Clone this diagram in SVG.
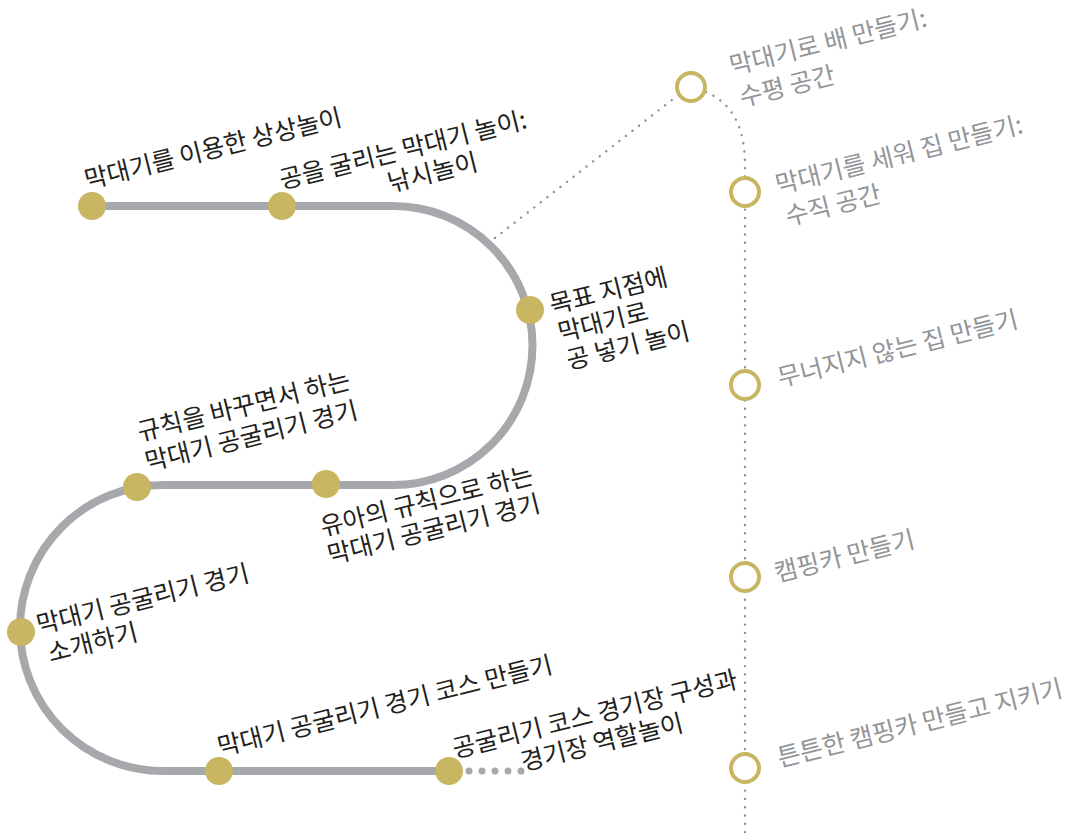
<svg xmlns="http://www.w3.org/2000/svg" width="1073" height="840" viewBox="0 0 1073 840">
<style>
.lbl{font-family:"Noto Sans CJK KR","Noto Sans",sans-serif;font-size:25px;fill:#231f20}
.glbl{font-family:"Noto Sans CJK KR","Noto Sans",sans-serif;font-size:25px;fill:#939598}
.dot{fill:#c8b662}
.ring{fill:#fff;stroke:#c8b662;stroke-width:4}
</style>
<rect width="1073" height="840" fill="#fff"/>
<g id="connectors">
<path d="M92 206 H393 A139.5 139.5 0 0 1 393 485 H163 A143 143 0 0 0 163 771 H449" fill="none" stroke="#a7a8ac" stroke-width="8"/>
<path d="M469 771 H534" fill="none" stroke="#a7a8ac" stroke-width="7" stroke-linecap="round" stroke-dasharray="0 13"/>
<path d="M495 238 L677 96" fill="none" stroke="#8d8e92" stroke-width="2.4" stroke-linecap="round" stroke-dasharray="0 8.3"/>
<path d="M706 92 C734 104 745 130 745 165 V840" fill="none" stroke="#8d8e92" stroke-width="2.4" stroke-linecap="round" stroke-dasharray="0 8.3"/>
</g>
<g id="n1"><circle class="dot" cx="92" cy="206" r="14"/><text class="lbl" transform="translate(87 189) rotate(-14)">막대기를 이용한 상상놀이</text></g>
<g id="n2"><circle class="dot" cx="282" cy="206" r="14"/><g transform="translate(282 189) rotate(-14)"><text class="lbl">공을 굴리는 막대기 놀이:</text><text class="lbl" x="104" y="29">낚시놀이</text></g></g>
<g id="n3"><circle class="dot" cx="530" cy="310" r="14"/><g transform="translate(552 314) rotate(-14)"><text class="lbl">목표 지점에</text><text class="lbl" x="1.5" y="29">막대기로</text><text class="lbl" x="3" y="58">공 넣기 놀이</text></g></g>
<g id="n4"><circle class="dot" cx="137" cy="487" r="14"/><g transform="translate(140 441) rotate(-14)"><text class="lbl">규칙을 바꾸면서 하는</text><text class="lbl" x="0" y="31">막대기 공굴리기 경기</text></g></g>
<g id="n5"><circle class="dot" cx="326" cy="484" r="14"/><g transform="translate(323 536) rotate(-14)"><text class="lbl">유아의 규칙으로 하는</text><text class="lbl" x="0" y="29">막대기 공굴리기 경기</text></g></g>
<g id="n6"><circle class="dot" cx="21" cy="632" r="14"/><g transform="translate(39 634) rotate(-14)"><text class="lbl">막대기 공굴리기 경기</text><text class="lbl" x="4" y="30">소개하기</text></g></g>
<g id="n7"><circle class="dot" cx="219" cy="771" r="14"/><text class="lbl" transform="translate(220 756) rotate(-14)">막대기 공굴리기 경기 코스 만들기</text></g>
<g id="n8"><circle class="dot" cx="449" cy="771" r="14"/><g transform="translate(455 758) rotate(-14)"><text class="lbl">공굴리기 코스 경기장 구성과</text><text class="lbl" x="63" y="29">경기장 역할놀이</text></g></g>
<g id="r1"><circle class="ring" cx="691" cy="87" r="14"/><g transform="translate(732 75) rotate(-14)"><text class="glbl">막대기로 배 만들기:</text><text class="glbl" x="2" y="33">수평 공간</text></g></g>
<g id="r2"><circle class="ring" cx="745" cy="192" r="14"/><g transform="translate(778 194) rotate(-14)"><text class="glbl">막대기를 세워 집 만들기:</text><text class="glbl" x="2" y="33">수직 공간</text></g></g>
<g id="r3"><circle class="ring" cx="745" cy="385" r="14"/><text class="glbl" transform="translate(780 387) rotate(-14)">무너지지 않는 집 만들기</text></g>
<g id="r4"><circle class="ring" cx="745" cy="577" r="14"/><text class="glbl" transform="translate(777 582) rotate(-14)">캠핑카 만들기</text></g>
<g id="r5"><circle class="ring" cx="745" cy="768" r="14"/><text class="glbl" transform="translate(780 767) rotate(-14)">튼튼한 캠핑카 만들고 지키기</text></g>
</svg>
